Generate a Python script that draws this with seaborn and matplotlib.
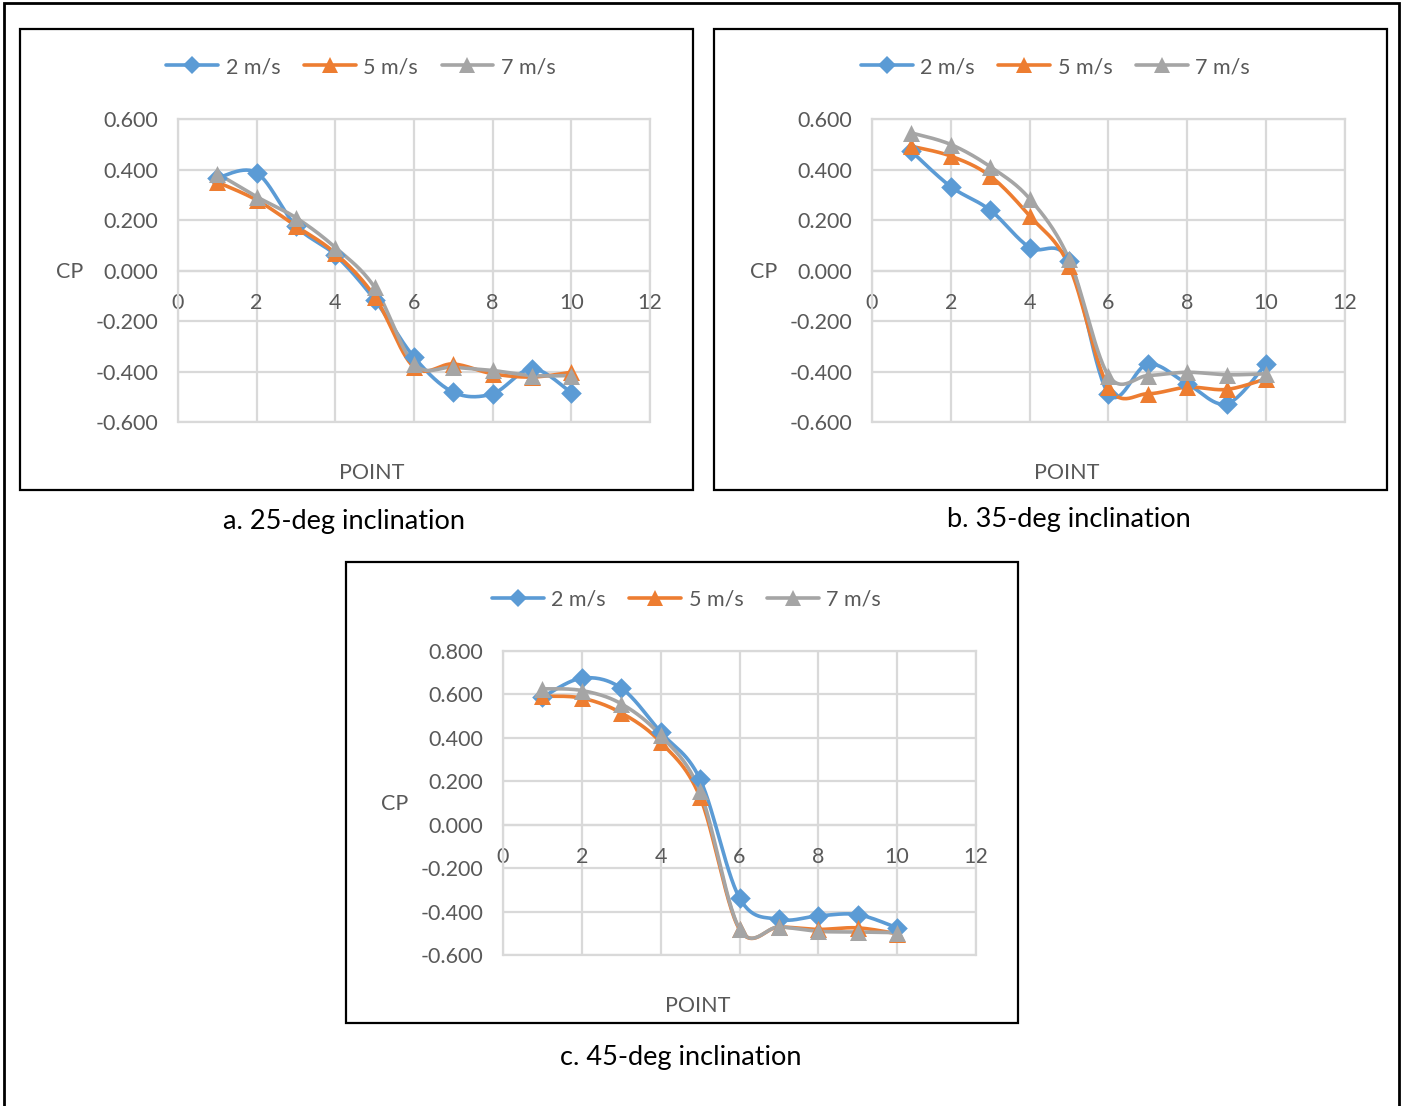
import numpy as np
import matplotlib
matplotlib.use("Agg")
import matplotlib.pyplot as plt
import seaborn as sns
import pandas as pd
from matplotlib.patches import Rectangle
from matplotlib.lines import Line2D

sns.set_theme(style="white")
plt.rcParams['font.family'] = ['Lato', 'DejaVu Sans']
plt.rcParams['axes.unicode_minus'] = False

points = [1, 2, 3, 4, 5, 6, 7, 8, 9, 10]
series_names = ["2 m/s", "5 m/s", "7 m/s"]

a_2 = [0.367, 0.387, 0.176, 0.061, -0.116, -0.343, -0.482, -0.488, -0.389, -0.484]
a_5 = [0.350, 0.279, 0.176, 0.068, -0.103, -0.383, -0.370, -0.409, -0.422, -0.403]
a_7 = [0.384, 0.292, 0.209, 0.091, -0.067, -0.370, -0.383, -0.396, -0.416, -0.416]

b_2 = [0.472, 0.332, 0.239, 0.091, 0.038, -0.488, -0.370, -0.449, -0.528, -0.370]
b_5 = [0.492, 0.453, 0.374, 0.216, 0.018, -0.462, -0.488, -0.462, -0.471, -0.429]
b_7 = [0.545, 0.499, 0.411, 0.284, 0.045, -0.416, -0.416, -0.403, -0.413, -0.409]

c_2 = [0.587, 0.675, 0.629, 0.426, 0.209, -0.337, -0.436, -0.420, -0.414, -0.475]
c_5 = [0.592, 0.583, 0.515, 0.380, 0.127, -0.482, -0.471, -0.482, -0.475, -0.502]
c_7 = [0.626, 0.618, 0.557, 0.411, 0.153, -0.479, -0.471, -0.491, -0.494, -0.497]

captions = ["a. 25-deg inclination", "b. 35-deg inclination", "c. 45-deg inclination"]

colors = ["#5B9BD5", "#ED7D31", "#A5A5A5"]
markers = ["D", "^", "^"]
TXT = "#595959"
GRID = "#D9D9D9"

W, H = 1405, 1106
fig = plt.figure(figsize=(W / 100, H / 100), dpi=100)


def fx(px):
    return px / W


def fy(py):
    return 1 - py / H


def smooth(x, y, n=30):
    x = np.asarray(x, float)
    y = np.asarray(y, float)
    P = np.column_stack([x, y])
    Pext = np.vstack([P[0], P, P[-1]])
    out = []
    t = np.linspace(0, 1, n)
    for i in range(len(P) - 1):
        p0, p1, p2, p3 = Pext[i], Pext[i + 1], Pext[i + 2], Pext[i + 3]
        b1 = p1 + (p2 - p0) / 6
        b2 = p2 - (p3 - p1) / 6
        seg = ((1 - t) ** 3)[:, None] * p1 + (3 * (1 - t) ** 2 * t)[:, None] * b1 \
            + (3 * (1 - t) * t ** 2)[:, None] * b2 + (t ** 3)[:, None] * p2
        out.append(seg if i == 0 else seg[1:])
    S = np.vstack(out)
    return S[:, 0], S[:, 1]


def panel(box, plot, data, ylim, yticks, caption, cap_xy, legend_y, cp_x):
    # panel border
    bx0, by0, bx1, by1 = box
    fig.patches.append(Rectangle((fx(bx0), fy(by1)), fx(bx1 - bx0), (by1 - by0) / H,
                                 transform=fig.transFigure, fill=False,
                                 edgecolor="black", linewidth=1.6))
    px0, py0, px1, py1 = plot
    ax = fig.add_axes([fx(px0), fy(py1), fx(px1 - px0), (py1 - py0) / H])
    for vals, name, col, mk in zip(data, series_names, colors, markers):
        xs, ys = smooth(points, vals)
        ax.plot(xs, ys, color=col, linewidth=2.6, solid_capstyle="round", zorder=3)
        df = pd.DataFrame({"x": points, "y": vals})
        sns.scatterplot(data=df, x="x", y="y", ax=ax, marker=mk, s=110 if mk == "D" else 150,
                        color=col, edgecolor=col, linewidth=0, zorder=4, legend=False)
    ax.set_xlim(0, 12)
    ax.set_ylim(*ylim)
    ax.set_xticks(range(0, 13, 2))
    ax.set_yticks(yticks)
    ax.set_yticklabels(["%.3f" % v for v in yticks])
    ax.grid(True, color=GRID, linewidth=1.6)
    ax.set_axisbelow(True)
    for s in ["top", "left", "right"]:
        ax.spines[s].set_color(GRID)
        ax.spines[s].set_linewidth(1.6)
    ax.spines["bottom"].set_position(("data", 0))
    ax.spines["bottom"].set_color(GRID)
    ax.spines["bottom"].set_linewidth(1.6)
    ax.axhline(ylim[0], color=GRID, linewidth=1.6, clip_on=False, zorder=0.5)
    ax.tick_params(axis="both", length=0, labelsize=15.5, labelcolor=TXT)
    ax.tick_params(axis="x", pad=16)
    ax.tick_params(axis="y", pad=14)
    ax.set_xlabel("")
    ax.set_ylabel("")
    ax.patch.set_alpha(0)
    # axis titles
    fig.text(fx((px0 + px1) / 2 - 42), fy((by1 - 17)), "POINT", ha="center", va="center",
             fontsize=15.5, color=TXT)
    fig.text(fx(cp_x), fy((py0 + py1) / 2 + 1), "CP", ha="center", va="center",
             fontsize=15.5, color=TXT)
    fig.text(fx(cap_xy[0]), fy(cap_xy[1]), caption, ha="center", va="center",
             fontsize=19.5, color="black")
    handles = [Line2D([0], [0], color=c, linewidth=2.6, marker=m,
                      markersize=9 if m == "D" else 12, markeredgewidth=0)
               for c, m in zip(colors, markers)]
    fig.legend(handles, series_names, loc="center", ncol=3,
               bbox_to_anchor=(fx((px0 + px1) / 2 - 53), fy(legend_y)), frameon=False,
               fontsize=15.5, labelcolor=TXT, handlelength=2.4, handletextpad=0.35,
               columnspacing=1.1)
    return ax


panel((20, 29, 693, 490), (178, 119, 650, 422), [a_2, a_5, a_7], (-0.6, 0.6),
      [-0.6, -0.4, -0.2, 0.0, 0.2, 0.4, 0.6], captions[0], (344, 522), 67, 70)
panel((714, 29, 1387, 490), (872, 119, 1345, 422), [b_2, b_5, b_7], (-0.6, 0.6),
      [-0.6, -0.4, -0.2, 0.0, 0.2, 0.4, 0.6], captions[1], (1069, 519), 67, 764)
panel((346, 562, 1018, 1023), (503, 651, 976, 955), [c_2, c_5, c_7], (-0.6, 0.8),
      [-0.6, -0.4, -0.2, 0.0, 0.2, 0.4, 0.6, 0.8], captions[2], (681, 1057), 600, 395)

# outer border
fig.patches.append(Rectangle((fx(4), fy(1120)), fx(1399 - 4), (1120 - 3) / H,
                             transform=fig.transFigure, fill=False, edgecolor="black",
                             linewidth=2.0, clip_on=False))

fig.savefig("out.png", dpi=100)
